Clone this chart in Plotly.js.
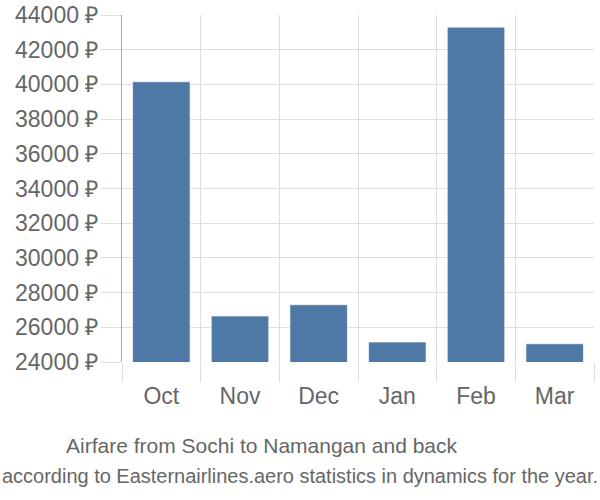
<!DOCTYPE html>
<html><head><meta charset="utf-8">
<script src="https://cdn.plot.ly/plotly-3.0.1.min.js"></script>
<style>body{margin:0}#c{width:600px;height:500px}</style>
</head><body><div id="c"></div>
<script>
var months = ["Oct","Nov","Dec","Jan","Feb","Mar"];
var prices = [40150, 26650, 27300, 25150, 43300, 25050];
var titleLine1 = "Airfare from Sochi to Namangan and back";
var titleLine2 = "according to Easternairlines.aero statistics in dynamics for the year.";

var font = "Liberation Sans, Arial, sans-serif";
Plotly.newPlot("c", [{
  type: "bar", x: months, y: prices,
  marker: {color: "#4e79a7", line: {color: "rgba(255,255,255,0.6)", width: 1}},
  hoverinfo: "none"
}], {
  width: 600, height: 500,
  margin: {l: 122, r: 6, t: 15, b: 138},
  paper_bgcolor: "#fff", plot_bgcolor: "#fff",
  bargap: 0.27,
  showlegend: false,
  font: {family: font, color: "#666", size: 23},
  xaxis: {type: "category", tickson: "boundaries", showgrid: true, gridcolor: "#dddddd",
    ticks: "outside", ticklen: 19, tickcolor: "#dddddd", showline: false, zeroline: false,
    ticklabelstandoff: 18,
    tickfont: {size: 23, color: "#666"}},
  yaxis: {range: [24000, 44000], dtick: 2000, tick0: 24000, ticksuffix: " ₽",
    showgrid: true, gridcolor: "#dddddd", ticks: "outside", ticklen: 20, tickcolor: "#dddddd",
    showline: true, linecolor: "#aaaaaa", linewidth: 1, zeroline: false, tickformat: "d",
    ticklabelstandoff: -2,
    tickfont: {size: 23, color: "#666"}},
  annotations: [
    {text: titleLine1, xref: "paper", yref: "paper", x: 0.2966, xanchor: "center",
     y: -0.242, yanchor: "middle", showarrow: false, font: {size: 21, color: "#666"}},
    {text: titleLine2, xref: "paper", yref: "paper", x: 0.377, xanchor: "center",
     y: -0.3285, yanchor: "middle", showarrow: false,
     font: {size: 19.5, color: "#666"}}
  ]
}, {staticPlot: true}).then(function(gd){
  var texts = gd.querySelectorAll('.annotation-text');
  if (texts.length > 1) {
    var t = texts[1];
    t.setAttribute('textLength', '596');
    t.setAttribute('lengthAdjust', 'spacingAndGlyphs');
  }
});
</script></body></html>
